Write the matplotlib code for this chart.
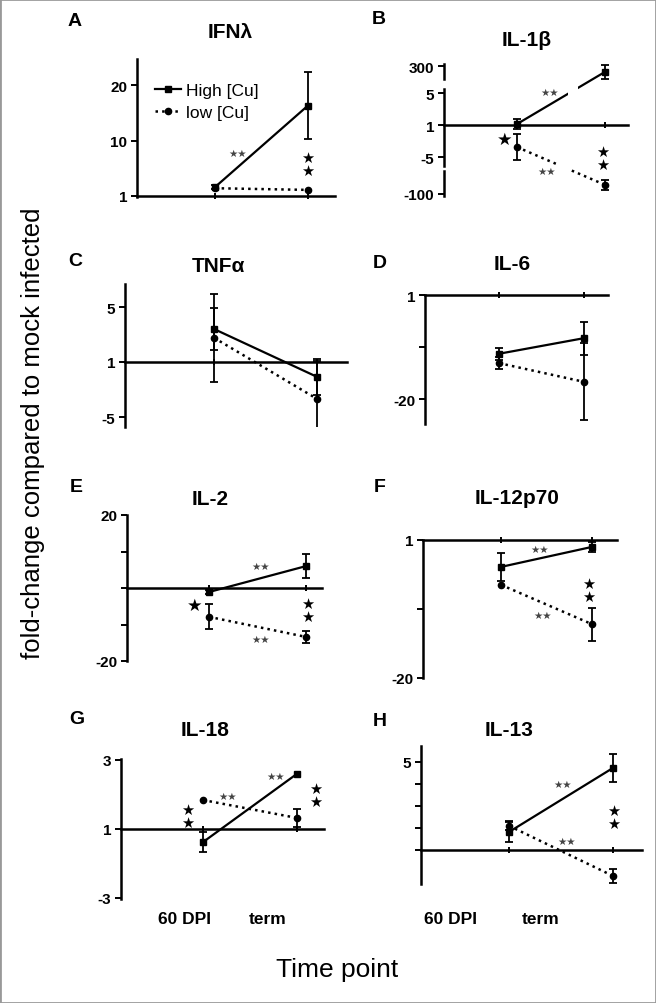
import matplotlib
matplotlib.use('Agg')
import matplotlib.pyplot as plt
from matplotlib.patches import Rectangle

W, H = 656, 1004
plt.rcParams['font.family'] = ['Liberation Sans', 'DejaVu Sans']

# Data (y values in the panel's own plotting units: tick positions below)
timepoints = ['60 DPI', 'term']
letters = ['A', 'B', 'C', 'D', 'E', 'F', 'G', 'H']
cytokines = ['IFNλ', 'IL-1β', 'TNFα', 'IL-6', 'IL-2', 'IL-12p70', 'IL-18', 'IL-13']

high_mean = [[0.16, 1.63], [0.03, 1.66], [0.60, -0.27], [-1.13, -0.83],
             [-0.11, 0.60], [-0.39, -0.10], [-0.19, 0.80], [0.82, 3.73]]
high_err = [[0.03, 0.60], [0.15, 0.23], [0.39, 0.33], [0.12, 0.32],
            [0.05, 0.32], [0.20, 0.07], [0.14, 0.0], [0.45, 0.64]]
low_mean = [[0.14, 0.11], [-0.69, -1.87], [0.44, -0.67], [-1.31, -1.67],
            [-0.79, -1.34], [-0.65, -1.22], [0.42, 0.16], [1.10, -1.18]]
low_err = [[0.0, 0.0], [0.40, 0.16], [0.80, 0.68], [0.12, 0.74],
           [0.34, 0.16], [0.0, 0.24], [0.0, 0.13], [0.20, 0.30]]

ytick_pos = [[0, 1, 2], [-2.15, -1, 0, 1, 1.84], [-1, 0, 1], [-2, -1, 0],
             [-2, -1, 0, 1, 2], [-2, -1, 0], [-1, 0, 1], [0, 1, 2, 3, 4]]
ytick_labels = [['1', '10', '20'], ['-100', '-5', '1', '5', '300'], ['-5', '1', '5'],
                ['-20', '', '1'], ['-20', '', '', '', '20'], ['-20', '', '1'],
                ['-3', '1', '3'], ['', '', '', '', '5']]

# layout in pixels: left, right, top, bottom, x(60 DPI), x(term), y(zero line), px per unit
boxes = [(137, 335, 60, 198, 215, 308, 197, 55.5),
         (444, 628, 65, 197, 517, 605, 126, 32),
         (125, 347, 285, 428, 214, 317, 363, 55),
         (425, 608, 296, 425, 499, 584, 296, 52),
         (127, 322, 516, 662, 209, 306, 589, 36.5),
         (423, 617, 541, 679, 501, 592, 541, 69),
         (121, 324, 760, 900, 203, 297, 830, 69),
         (421, 642, 747, 885, 509, 613, 851, 22)]
title_xy = [(230, 33), (527, 40), (218, 267), (512, 264),
            (210, 500), (517, 499), (205, 730), (509, 730)]
letter_xy = [(75, 22), (379, 20), (75, 262), (380, 263),
             (76, 488), (380, 487), (77, 719), (380, 721)]

# significance marks (figure pixels)
small_stars = [(238, 154), (550, 93), (547, 172), (261, 567), (261, 640),
               (540, 550), (543, 616), (228, 797), (276, 777), (563, 785), (567, 842)]
double_stars = [(308, 165), (603, 159), (308, 611), (589, 591),
                (188, 817), (316, 796), (614, 818)]
single_stars = [(505, 140), (195, 606)]

# white gaps where the IL-1β lines pass the axis breaks (x0, y0, x1, y1 in pixels)
break_gaps = [(568, 86, 578, 98), (559, 161, 569, 176)]

fig = plt.figure(figsize=(W / 100, H / 100), dpi=100)


def fx(x):
    return x / W


def fy(y):
    return 1 - y / H


def ftext(x, y, s, **kw):
    fig.text(fx(x), fy(y), s, ha='center', va='center', **kw)


x = [1, 2]
for i in range(8):
    xl, xr, yt, yb, x1, x2, y0, u = boxes[i]
    ax = fig.add_axes([fx(xl), fy(yb), (xr - xl) / W, (yb - yt) / H])
    ax.set_facecolor('none')
    s = x2 - x1
    ax.set_xlim(1 - (x1 - xl) / s, 2 + (xr - x2) / s)
    ax.set_ylim((y0 - yb) / u, (y0 - yt) / u)
    ax.spines['top'].set_visible(False)
    ax.spines['right'].set_visible(False)
    ax.spines['bottom'].set_position(('data', 0))
    ax.spines['bottom'].set_linewidth(1.8)
    ax.spines['left'].set_linewidth(1.8)
    ax.set_xticks(x)
    ax.set_xticklabels([])
    ax.tick_params(axis='x', direction='inout', length=5, width=1.4)
    ax.set_yticks(ytick_pos[i])
    ax.set_yticklabels(ytick_labels[i], fontweight='bold')
    ax.tick_params(axis='y', direction='out', length=4, width=1.4, labelsize=11, pad=3)

    if i == 1:
        # broken y axis
        ax.spines['left'].set_visible(False)
        for a, b in [(-2.22, -1.44), (-1.28, 1.12), (1.44, 1.90)]:
            ax.plot([0, 0], [a, b], color='k', lw=1.8, clip_on=False,
                    transform=ax.get_yaxis_transform())

    ax.plot(x, high_mean[i], '-s', color='k', ms=4.5, lw=1.6, label='High [Cu]')
    ax.plot(x, low_mean[i], ':o', color='k', ms=4.5, lw=1.8, label='low [Cu]')
    for mean, err in [(high_mean[i], high_err[i]), (low_mean[i], low_err[i])]:
        keep = [j for j in range(2) if err[j] > 0]
        if keep:
            ax.errorbar([x[j] for j in keep], [mean[j] for j in keep],
                        yerr=[err[j] for j in keep], fmt='none', ecolor='k',
                        elinewidth=1.3, capsize=3, capthick=1.3)

    if i == 0:
        ax.legend(loc='upper left', bbox_to_anchor=(fx(155), fy(84)),
                  bbox_transform=fig.transFigure, frameon=False, fontsize=12.5,
                  handlelength=1.5, handletextpad=0.3, borderpad=0,
                  borderaxespad=0, labelspacing=0.4)

    ftext(*title_xy[i], cytokines[i], fontsize=15, fontweight='bold')
    ftext(*letter_xy[i], letters[i], fontsize=14, fontweight='bold')

for gx0, gy0, gx1, gy1 in break_gaps:
    fig.patches.append(Rectangle((fx(gx0), fy(gy1)), (gx1 - gx0) / W, (gy1 - gy0) / H,
                                 transform=fig.transFigure, facecolor='white',
                                 edgecolor='none', zorder=2))

for p in small_stars:
    ftext(*p, '★★', fontsize=7.5, color='#444444', family='DejaVu Sans')
for p in double_stars:
    ftext(*p, '★\n★', fontsize=10.5, linespacing=0.85, family='DejaVu Sans')
for p in single_stars:
    ftext(*p, '★', fontsize=12.5, family='DejaVu Sans')

for xpos, lab in zip([184, 268, 450, 541], timepoints * 2):
    ftext(xpos, 920, lab, fontsize=12.5, fontweight='bold')

ftext(337, 970, 'Time point', fontsize=19)
ftext(33, 433, 'fold-change compared to mock infected', fontsize=18.5, rotation=90)

fig.patches.append(Rectangle((0, 0), 1, 1, transform=fig.transFigure, fill=False,
                             edgecolor='#999999', lw=2))

fig.savefig('out.png', dpi=100)
